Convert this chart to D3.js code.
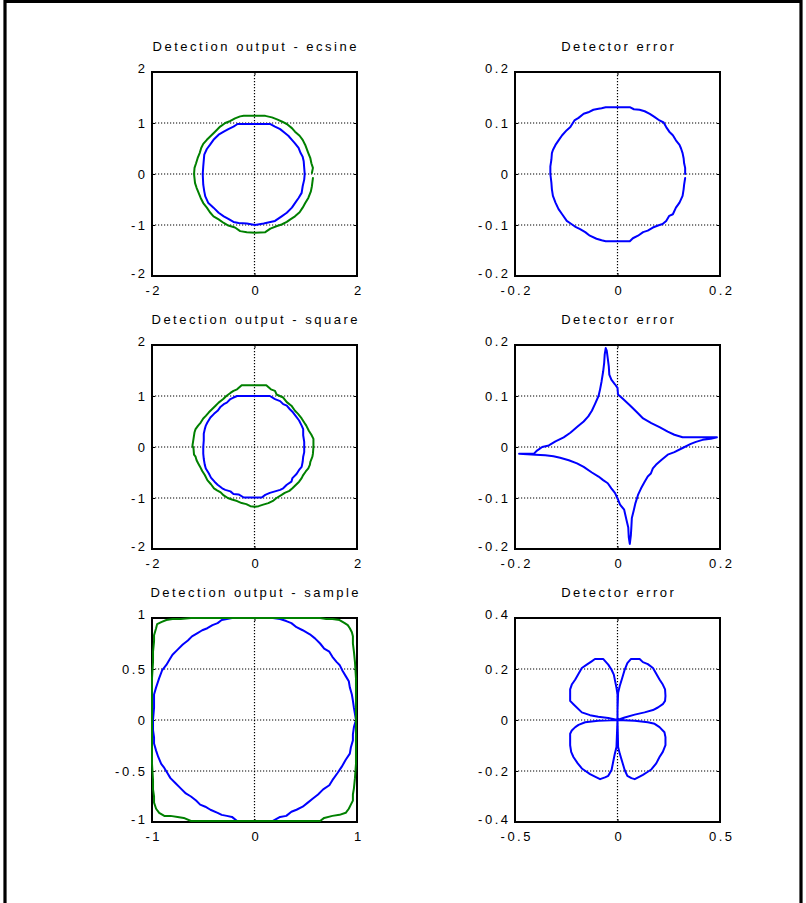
<!DOCTYPE html>
<html>
<head>
<meta charset="utf-8">
<script src="https://cdn.jsdelivr.net/npm/d3@7"></script>
<style>
  html, body { margin: 0; padding: 0; background: #fff; }
  svg { display: block; }
</style>
</head>
<body>
<svg id="fig" width="806" height="903"></svg>
<script>
// ---------------- data ----------------
const titles = [
  "Detection output - ecsine", "Detector error",
  "Detection output - square", "Detector error",
  "Detection output - sample", "Detector error"
];

// tick values and their labels
const ticks2 = [-2, -1, 0, 1, 2];
const labels2 = ["-2", "-1", "0", "1", "2"];
const xticks2 = [-2, 0, 2];
const xlabels2 = ["-2", "0", "2"];
const ticks02 = [-0.2, -0.1, 0, 0.1, 0.2];
const labels02 = ["-0.2", "-0.1", "0", "0.1", "0.2"];
const xticks02 = [-0.2, 0, 0.2];
const xlabels02 = ["-0.2", "0", "0.2"];
const ticks1 = [-1, -0.5, 0, 0.5, 1];
const labels1 = ["-1", "-0.5", "0", "0.5", "1"];
const xticks1 = [-1, 0, 1];
const xlabels1 = ["-1", "0", "1"];
const ticks04 = [-0.4, -0.2, 0, 0.2, 0.4];
const labels04 = ["-0.4", "-0.2", "0", "0.2", "0.4"];
const xticks05 = [-0.5, 0, 0.5];
const xlabels05 = ["-0.5", "0", "0.5"];

// ecsine detector: output (blue) and input (green) trajectories
const ecsineOutput = [
  [-0.33,0.98],[0.31,0.98],[0.40,0.93],[0.50,0.88],[0.60,0.80],[0.66,0.75],[0.73,0.67],[0.79,0.60],
  [0.86,0.51],[0.90,0.41],[0.94,0.34],[0.96,0.25],[0.97,0.12],[0.98,0.0],[0.97,-0.11],[0.94,-0.24],
  [0.92,-0.37],[0.86,-0.47],[0.79,-0.57],[0.73,-0.66],[0.63,-0.76],[0.53,-0.83],[0.40,-0.92],[0.31,-0.94],
  [0.18,-0.97],[0.01,-1.0],[-0.15,-0.97],[-0.31,-0.96],[-0.41,-0.94],[-0.51,-0.88],[-0.60,-0.83],[-0.70,-0.76],
  [-0.80,-0.66],[-0.90,-0.57],[-0.96,-0.44],[-0.98,-0.34],[-1.0,-0.21],[-1.01,0.0],[-1.0,0.15],[-0.98,0.38],
  [-0.93,0.49],[-0.87,0.57],[-0.80,0.67],[-0.70,0.77],[-0.60,0.83],[-0.51,0.88],[-0.41,0.93],[-0.33,0.98]
];
const ecsineInput = [
  [1.14,-0.08],[1.12,-0.24],[1.10,-0.34],[1.05,-0.47],[0.99,-0.57],[0.94,-0.66],[0.88,-0.75],[0.79,-0.83],
  [0.70,-0.89],[0.63,-0.94],[0.53,-0.99],[0.44,-1.02],[0.31,-1.07],[0.21,-1.14],[0.01,-1.15],[-0.15,-1.14],
  [-0.28,-1.12],[-0.38,-1.05],[-0.51,-1.01],[-0.60,-0.96],[-0.70,-0.89],[-0.80,-0.83],[-0.87,-0.75],[-0.93,-0.66],
  [-1.0,-0.57],[-1.05,-0.47],[-1.09,-0.37],[-1.13,-0.27],[-1.16,-0.18],[-1.18,0.0],[-1.17,0.12],[-1.14,0.21],
  [-1.11,0.31],[-1.07,0.41],[-1.04,0.51],[-1.0,0.59],[-0.93,0.67],[-0.85,0.75],[-0.77,0.83],[-0.67,0.93],
  [-0.57,1.0],[-0.47,1.04],[-0.38,1.09],[-0.28,1.13],[-0.21,1.14],[0.21,1.14],[0.34,1.11],[0.44,1.07],
  [0.53,1.03],[0.63,0.98],[0.73,0.90],[0.79,0.83],[0.88,0.75],[0.94,0.67],[0.99,0.57],[1.05,0.41],
  [1.09,0.31],[1.11,0.21],[1.14,0.12],[1.12,0.02]
];
const ecsineError = [
  [0.132,-0.008],[0.130,-0.021],[0.129,-0.030],[0.127,-0.043],[0.121,-0.056],[0.114,-0.066],[0.108,-0.079],
  [0.101,-0.082],[0.095,-0.092],[0.088,-0.098],[0.079,-0.101],[0.069,-0.105],[0.059,-0.111],[0.050,-0.114],
  [0.040,-0.121],[0.030,-0.126],[0.024,-0.132],[-0.023,-0.132],[-0.031,-0.130],[-0.041,-0.127],[-0.054,-0.121],
  [-0.063,-0.114],[-0.073,-0.108],[-0.083,-0.103],[-0.090,-0.098],[-0.099,-0.092],[-0.108,-0.079],[-0.115,-0.069],
  [-0.121,-0.056],[-0.126,-0.043],[-0.128,-0.030],[-0.129,-0.017],[-0.131,0.0],[-0.131,0.015],[-0.129,0.028],
  [-0.128,0.041],[-0.126,0.047],[-0.121,0.057],[-0.115,0.066],[-0.108,0.076],[-0.099,0.086],[-0.092,0.092],
  [-0.084,0.105],[-0.076,0.110],[-0.066,0.118],[-0.057,0.121],[-0.047,0.126],[-0.037,0.128],[-0.031,0.129],
  [-0.023,0.131],[0.024,0.131],[0.032,0.127],[0.043,0.126],[0.053,0.123],[0.063,0.118],[0.072,0.112],
  [0.082,0.105],[0.090,0.101],[0.095,0.092],[0.101,0.083],[0.108,0.076],[0.114,0.066],[0.121,0.057],
  [0.124,0.050],[0.127,0.041],[0.129,0.031],[0.130,0.021],[0.132,0.012],[0.132,0.0]
];

// square detector
const squareOutput = [
  [-0.34,1.0],[0.30,1.0],[0.40,0.94],[0.50,0.90],[0.56,0.84],[0.63,0.81],[0.69,0.74],[0.75,0.68],
  [0.81,0.60],[0.87,0.52],[0.92,0.42],[0.95,0.35],[0.95,0.23],[0.97,0.10],[0.97,-0.10],[0.95,-0.19],
  [0.94,-0.29],[0.92,-0.39],[0.87,-0.45],[0.82,-0.53],[0.74,-0.61],[0.72,-0.68],[0.63,-0.74],[0.56,-0.81],
  [0.50,-0.84],[0.40,-0.87],[0.30,-0.90],[0.21,-0.94],[0.14,-0.99],[-0.21,-0.99],[-0.31,-0.93],[-0.41,-0.92],
  [-0.47,-0.87],[-0.57,-0.84],[-0.63,-0.81],[-0.72,-0.74],[-0.78,-0.68],[-0.85,-0.60],[-0.89,-0.52],[-0.95,-0.42],
  [-0.97,-0.35],[-0.99,-0.23],[-1.0,-0.13],[-1.0,0.0],[-0.99,0.13],[-0.99,0.26],[-0.97,0.35],[-0.95,0.42],
  [-0.92,0.48],[-0.86,0.58],[-0.79,0.65],[-0.72,0.71],[-0.66,0.79],[-0.60,0.84],[-0.54,0.87],[-0.47,0.94],
  [-0.41,0.97],[-0.34,1.0]
];
const squareInput = [
  [-0.25,1.21],[0.23,1.21],[0.32,1.13],[0.40,1.10],[0.43,1.03],[0.56,0.97],[0.63,0.88],[0.72,0.81],
  [0.79,0.71],[0.85,0.65],[0.92,0.56],[0.97,0.48],[1.01,0.42],[1.06,0.32],[1.11,0.24],[1.15,0.16],
  [1.15,0.0],[1.14,-0.13],[1.13,-0.19],[1.09,-0.29],[1.08,-0.35],[1.05,-0.42],[1.0,-0.48],[0.95,-0.55],
  [0.92,-0.61],[0.87,-0.68],[0.81,-0.74],[0.74,-0.81],[0.68,-0.86],[0.59,-0.90],[0.53,-0.94],[0.43,-1.0],
  [0.37,-1.05],[0.27,-1.10],[0.17,-1.13],[0.08,-1.16],[0.01,-1.17],[-0.08,-1.16],[-0.16,-1.12],[-0.25,-1.10],
  [-0.34,-1.06],[-0.44,-1.03],[-0.52,-1.0],[-0.60,-0.95],[-0.66,-0.89],[-0.73,-0.85],[-0.79,-0.81],[-0.85,-0.73],
  [-0.92,-0.65],[-0.97,-0.55],[-1.02,-0.47],[-1.06,-0.39],[-1.10,-0.32],[-1.13,-0.26],[-1.15,-0.19],[-1.18,-0.15],
  [-1.19,-0.03],[-1.21,0.03],[-1.19,0.16],[-1.17,0.29],[-1.15,0.35],[-1.10,0.42],[-1.05,0.48],[-1.0,0.56],
  [-0.95,0.61],[-0.89,0.68],[-0.83,0.74],[-0.76,0.81],[-0.70,0.87],[-0.61,0.94],[-0.55,1.0],[-0.47,1.06],
  [-0.41,1.10],[-0.34,1.13],[-0.25,1.21]
];
const squareError = [
  [-0.192,-0.013],[-0.163,-0.013],[-0.157,-0.007],[-0.147,0.0],[-0.134,0.003],[-0.121,0.011],[-0.105,0.019],
  [-0.092,0.028],[-0.079,0.039],[-0.066,0.050],[-0.057,0.060],[-0.050,0.071],[-0.044,0.084],[-0.037,0.100],
  [-0.034,0.113],[-0.031,0.129],[-0.028,0.148],[-0.026,0.165],[-0.025,0.181],[-0.023,0.194],[-0.021,0.189],
  [-0.019,0.174],[-0.017,0.158],[-0.016,0.142],[-0.012,0.132],[-0.005,0.123],[0.0,0.116],[0.001,0.103],
  [0.011,0.094],[0.024,0.082],[0.037,0.069],[0.050,0.056],[0.066,0.047],[0.082,0.039],[0.098,0.030],
  [0.111,0.024],[0.127,0.019],[0.143,0.019],[0.169,0.019],[0.194,0.019],[0.182,0.016],[0.166,0.014],
  [0.153,0.010],[0.143,0.006],[0.127,-0.002],[0.111,-0.010],[0.098,-0.015],[0.085,-0.026],[0.075,-0.035],
  [0.069,-0.042],[0.065,-0.052],[0.059,-0.058],[0.053,-0.068],[0.046,-0.081],[0.040,-0.094],[0.035,-0.110],
  [0.032,-0.123],[0.028,-0.139],[0.027,-0.158],[0.026,-0.174],[0.024,-0.190],[0.022,-0.177],[0.021,-0.158],
  [0.018,-0.145],[0.013,-0.123],[0.005,-0.113],[0.001,-0.103],[-0.005,-0.090],[-0.012,-0.081],[-0.019,-0.071],
  [-0.028,-0.065],[-0.037,-0.058],[-0.050,-0.050],[-0.066,-0.039],[-0.079,-0.032],[-0.095,-0.026],
  [-0.112,-0.021],[-0.125,-0.018],[-0.141,-0.016],[-0.160,-0.015],[-0.192,-0.013]
];

// sample detector
const sampleOutput = [
  [-0.22,1.0],[0.18,1.0],[0.25,0.99],[0.31,0.97],[0.36,0.95],[0.41,0.91],[0.47,0.88],[0.54,0.84],
  [0.59,0.80],[0.64,0.75],[0.68,0.70],[0.73,0.67],[0.76,0.62],[0.80,0.57],[0.83,0.54],[0.86,0.48],
  [0.89,0.43],[0.92,0.38],[0.93,0.32],[0.95,0.25],[0.96,0.19],[0.97,0.12],[0.98,0.06],[0.99,0.0],
  [0.97,-0.07],[0.96,-0.14],[0.96,-0.20],[0.94,-0.27],[0.93,-0.33],[0.89,-0.39],[0.85,-0.46],[0.81,-0.52],
  [0.76,-0.59],[0.73,-0.64],[0.67,-0.68],[0.62,-0.73],[0.57,-0.77],[0.52,-0.81],[0.47,-0.85],[0.41,-0.88],
  [0.36,-0.90],[0.31,-0.94],[0.25,-0.95],[0.18,-0.99],[-0.17,-0.99],[-0.22,-0.95],[-0.27,-0.94],[-0.32,-0.93],
  [-0.36,-0.91],[-0.43,-0.88],[-0.48,-0.85],[-0.53,-0.83],[-0.57,-0.79],[-0.62,-0.75],[-0.67,-0.72],[-0.72,-0.67],
  [-0.77,-0.62],[-0.82,-0.57],[-0.85,-0.52],[-0.88,-0.47],[-0.91,-0.43],[-0.94,-0.36],[-0.96,-0.30],[-0.98,-0.23],
  [-0.98,-0.17],[-0.99,-0.10],[-0.99,0.0],[-0.98,0.12],[-0.98,0.25],[-0.96,0.32],[-0.93,0.41],[-0.90,0.49],
  [-0.86,0.54],[-0.83,0.59],[-0.80,0.64],[-0.75,0.69],[-0.70,0.74],[-0.65,0.78],[-0.61,0.82],[-0.56,0.85],
  [-0.51,0.88],[-0.46,0.90],[-0.41,0.93],[-0.36,0.95],[-0.32,0.98],[-0.27,0.99],[-0.22,1.0]
];
const sampleInput = [
  [-0.62,1.0],[0.64,1.0],[0.70,0.99],[0.76,0.99],[0.83,0.98],[0.88,0.95],[0.91,0.93],[0.93,0.90],
  [0.95,0.86],[0.96,0.82],[0.96,0.75],[0.97,0.67],[0.98,0.57],[0.99,0.41],[0.99,-0.43],[0.98,-0.57],
  [0.97,-0.67],[0.96,-0.73],[0.96,-0.79],[0.94,-0.83],[0.92,-0.87],[0.89,-0.91],[0.83,-0.93],[0.76,-0.94],
  [0.68,-0.96],[0.64,-0.99],[-0.62,-0.99],[-0.69,-0.96],[-0.75,-0.95],[-0.82,-0.94],[-0.88,-0.94],[-0.93,-0.91],
  [-0.96,-0.87],[-0.98,-0.81],[-0.98,-0.75],[-0.99,-0.68],[-0.99,-0.59],[-1.0,-0.43],[-1.0,0.41],[-0.99,0.57],
  [-0.99,0.67],[-0.98,0.77],[-0.98,0.83],[-0.96,0.90],[-0.95,0.94],[-0.91,0.96],[-0.86,0.98],[-0.80,0.99],
  [-0.72,0.99],[-0.62,1.0]
];
const sampleError = [
  [0,0],[0,0.036],[0.003,0.107],[0.011,0.133],[0.023,0.165],[0.035,0.197],[0.048,0.223],[0.065,0.239],
  [0.108,0.239],[0.124,0.227],[0.148,0.219],[0.173,0.204],[0.189,0.181],[0.205,0.159],[0.221,0.139],
  [0.232,0.120],[0.234,0.094],[0.232,0.075],[0.221,0.062],[0.197,0.049],[0.173,0.039],[0.132,0.030],
  [0.084,0.021],[0.035,0.010],[0,0],
  [0.084,-0.003],[0.148,-0.009],[0.181,-0.015],[0.205,-0.028],[0.229,-0.048],[0.234,-0.067],[0.234,-0.099],
  [0.221,-0.125],[0.205,-0.145],[0.189,-0.170],[0.165,-0.194],[0.148,-0.203],[0.124,-0.215],[0.108,-0.222],
  [0.084,-0.232],[0.068,-0.228],[0.048,-0.219],[0.035,-0.196],[0.023,-0.164],[0.011,-0.132],[0.003,-0.106],[0,0],
  [-0.005,-0.106],[-0.013,-0.132],[-0.021,-0.164],[-0.029,-0.196],[-0.045,-0.219],[-0.061,-0.225],[-0.085,-0.232],
  [-0.110,-0.222],[-0.134,-0.212],[-0.158,-0.199],[-0.174,-0.190],[-0.194,-0.170],[-0.215,-0.145],[-0.226,-0.125],
  [-0.231,-0.099],[-0.231,-0.054],[-0.223,-0.041],[-0.206,-0.028],[-0.190,-0.019],[-0.158,-0.009],[-0.094,-0.003],[0,0],
  [-0.045,0.008],[-0.094,0.013],[-0.134,0.019],[-0.174,0.030],[-0.215,0.062],[-0.231,0.075],[-0.231,0.120],
  [-0.223,0.139],[-0.206,0.159],[-0.190,0.181],[-0.174,0.204],[-0.150,0.217],[-0.126,0.230],[-0.110,0.239],
  [-0.069,0.239],[-0.045,0.217],[-0.029,0.197],[-0.018,0.178],[-0.005,0.126],[0,0.101],[0,0]
];

// ---------------- layout & style ----------------
const BLUE = "#0000ff", GREEN = "#008000";
const FONT = "'Liberation Sans', Arial, Helvetica, sans-serif";
const FS = 13, LS = 2.5;         // font size and letter spacing
const colLeft = [152, 515], rowTop = [72, 345, 618];
const PW = 205, PH = 204;

const panels = [
  { title: titles[0], xd: [-2, 2], yd: [-2, 2], xt: xticks2, xl: xlabels2, yt: ticks2, yl: labels2,
    series: [{ data: ecsineOutput, color: BLUE }, { data: ecsineInput, color: GREEN }] },
  { title: titles[1], xd: [-0.2, 0.2], yd: [-0.2, 0.2], xt: xticks02, xl: xlabels02, yt: ticks02, yl: labels02,
    series: [{ data: ecsineError, color: BLUE }] },
  { title: titles[2], xd: [-2, 2], yd: [-2, 2], xt: xticks2, xl: xlabels2, yt: ticks2, yl: labels2,
    series: [{ data: squareOutput, color: BLUE }, { data: squareInput, color: GREEN }] },
  { title: titles[3], xd: [-0.2, 0.2], yd: [-0.2, 0.2], xt: xticks02, xl: xlabels02, yt: ticks02, yl: labels02,
    series: [{ data: squareError, color: BLUE }] },
  { title: titles[4], xd: [-1, 1], yd: [-1, 1], xt: xticks1, xl: xlabels1, yt: ticks1, yl: labels1,
    series: [{ data: sampleOutput, color: BLUE }, { data: sampleInput, color: GREEN }] },
  { title: titles[5], xd: [-0.5, 0.5], yd: [-0.4, 0.4], xt: xticks05, xl: xlabels05, yt: ticks04, yl: labels04,
    series: [{ data: sampleError, color: BLUE }] }
];

const svg = d3.select("#fig");
svg.append("rect").attr("width", 806).attr("height", 903).attr("fill", "#fff");

// figure frame
svg.append("path")
  .attr("d", "M5,903 V1.4 H801 V903")
  .attr("fill", "none").attr("stroke", "#000").attr("stroke-width", 3.2);

function styleText(sel) {
  sel.attr("font-family", FONT).attr("font-size", FS).attr("letter-spacing", LS).attr("fill", "#000");
}

panels.forEach((p, i) => {
  const left = colLeft[i % 2], top = rowTop[Math.floor(i / 2)];
  const x = d3.scaleLinear().domain(p.xd).range([left, left + PW]);
  const y = d3.scaleLinear().domain(p.yd).range([top + PH, top]);
  const g = svg.append("g");

  // dotted grid at interior ticks
  const innerX = p.xt.filter(v => v > p.xd[0] && v < p.xd[1]);
  const innerY = p.yt.filter(v => v > p.yd[0] && v < p.yd[1]);
  g.append("g").selectAll("line").data(innerX).join("line")
    .attr("x1", d => x(d)).attr("x2", d => x(d)).attr("y1", top).attr("y2", top + PH)
    .attr("stroke", "#000").attr("stroke-width", 1.2).attr("stroke-dasharray", "1.2,1.8");
  g.append("g").selectAll("line").data(innerY).join("line")
    .attr("y1", d => y(d)).attr("y2", d => y(d)).attr("x1", left).attr("x2", left + PW)
    .attr("stroke", "#000").attr("stroke-width", 1.2).attr("stroke-dasharray", "1.2,1.8");

  // axes: labelled left/bottom, tick-only right/top
  const axL = g.append("g").attr("transform", `translate(${left},0)`)
    .call(d3.axisLeft(y).tickValues(p.yt).tickFormat((d, k) => p.yl[k]).tickSize(-3).tickPadding(7 - LS));
  const axB = g.append("g").attr("transform", `translate(0,${top + PH})`)
    .call(d3.axisBottom(x).tickValues(p.xt).tickFormat((d, k) => p.xl[k]).tickSize(-3).tickPadding(10));
  const axR = g.append("g").attr("transform", `translate(${left + PW},0)`)
    .call(d3.axisRight(y).tickValues(p.yt).tickFormat("").tickSize(-3));
  const axT = g.append("g").attr("transform", `translate(0,${top})`)
    .call(d3.axisTop(x).tickValues(p.xt).tickFormat("").tickSize(-3));
  [axL, axB, axR, axT].forEach(a => {
    a.select(".domain").remove();
    a.selectAll(".tick line").attr("stroke", "#000").attr("stroke-width", 1);
    a.attr("font-family", null).attr("font-size", null);
  });
  axL.selectAll("text").call(styleText)
    .attr("y", d => (d === p.yd[1] ? -4 : d === p.yd[0] ? -3 : 0));
  axB.selectAll("text").call(styleText).attr("x", LS / 2);

  // outer box
  g.append("rect").attr("x", left).attr("y", top).attr("width", PW).attr("height", PH)
    .attr("fill", "none").attr("stroke", "#000").attr("stroke-width", 2);

  // curves
  const line = d3.line().x(d => x(d[0])).y(d => y(d[1]));
  g.append("g").selectAll("path").data(p.series).join("path")
    .attr("d", s => line(s.data))
    .attr("fill", "none").attr("stroke", s => s.color)
    .attr("stroke-width", 2).attr("stroke-linejoin", "round").attr("stroke-linecap", "round");

  // title
  g.append("text").attr("x", left + PW / 2 + LS / 2).attr("y", top - 21)
    .attr("text-anchor", "middle").text(p.title).call(styleText);
});
</script>
</body>
</html>
